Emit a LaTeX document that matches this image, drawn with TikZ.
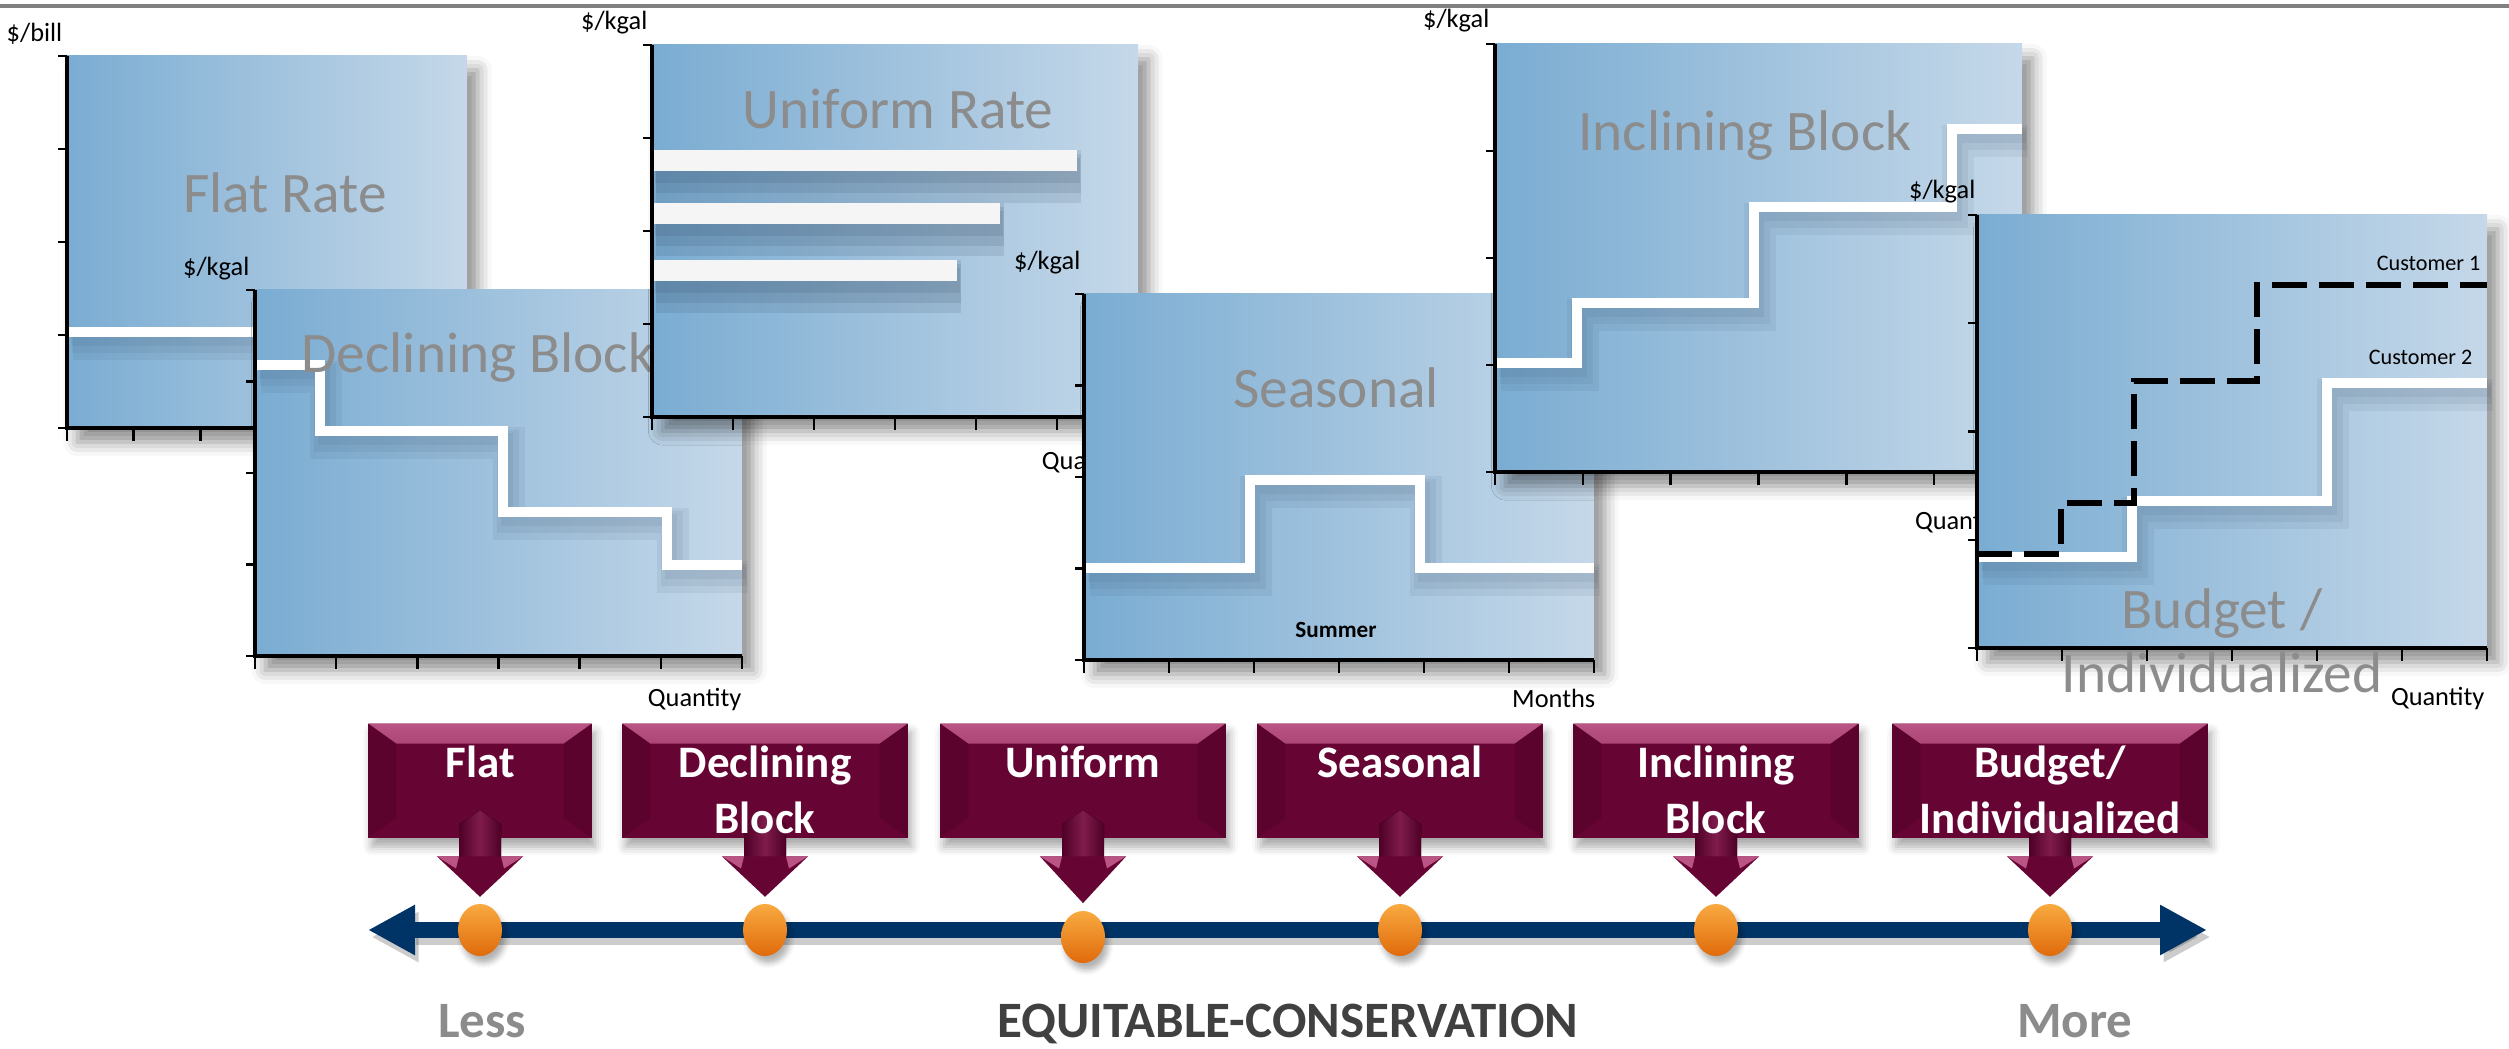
\documentclass[tikz,border=0pt]{standalone}
\usepackage{fontspec}
\setmainfont{Carlito}
\usetikzlibrary{positioning}
\usetikzlibrary{calc}
\usetikzlibrary{arrows.meta}
\usetikzlibrary{shapes.geometric}
\usetikzlibrary{shadows.blur}

\definecolor{panl}{RGB}{122,172,210}
\definecolor{panr}{RGB}{197,216,233}
\definecolor{titlegray}{RGB}{140,140,140}
\definecolor{boxred}{RGB}{102,4,52}
\definecolor{boxlite}{RGB}{186,84,132}
\definecolor{boxdark}{RGB}{78,0,38}
\definecolor{navy}{RGB}{0,51,102}
\definecolor{balllite}{RGB}{248,170,64}
\definecolor{balldark}{RGB}{224,106,12}
\definecolor{shadeblue}{RGB}{40,60,85}

\tikzset{
    panelbg/.style={left color=panl, right color=panr,
        blur shadow={shadow xshift=3pt, shadow yshift=-4pt,
            shadow blur radius=4pt, shadow opacity=45}},
    axisline/.style={black, line width=1.3pt},
    tickline/.style={black, line width=0.7pt},
    stepline/.style={white, line width=2.8pt},
    stepshade/.style={shadeblue, opacity=0.07, line width=#1},
    barshade/.style={shadeblue, opacity=0.12, line width=#1},
    ratebar/.style={black!4, line width=6pt},
    dashline/.style={black, line width=1.85pt, dash pattern=on 0.35cm off 0.12cm},
    graphtitle/.style={font=\fontsize{16.3}{19}\selectfont, text=titlegray,
        inner sep=0pt, anchor=base},
    unitlabel/.style={font=\fontsize{7.5}{9}\selectfont, inner sep=0pt, anchor=base east},
    smalllabel/.style={font=\fontsize{6.3}{8}\selectfont, inner sep=0pt, anchor=base east},
    seasonnote/.style={font=\bfseries\fontsize{6.6}{8}\selectfont, inner sep=0pt, anchor=base},
    rbox/.style={rectangle, fill=boxred, minimum height=1.14cm, inner sep=0pt, anchor=north,
        blur shadow={shadow xshift=1pt, shadow yshift=-2.5pt,
            shadow blur radius=2.5pt, shadow opacity=35},
        path picture={
            \fill [top color=boxlite, bottom color=boxred]
                (path picture bounding box.north west) -- (path picture bounding box.north east)
                -- ([xshift=-0.28cm, yshift=-0.2cm] path picture bounding box.north east)
                -- ([xshift=0.28cm, yshift=-0.2cm] path picture bounding box.north west) -- cycle;
            \fill [boxdark, opacity=0.45]
                (path picture bounding box.north west)
                -- ([xshift=0.28cm, yshift=-0.2cm] path picture bounding box.north west)
                -- ([xshift=0.28cm, yshift=0.2cm] path picture bounding box.south west)
                -- (path picture bounding box.south west) -- cycle;
            \fill [boxdark, opacity=0.45]
                (path picture bounding box.north east)
                -- ([xshift=-0.28cm, yshift=-0.2cm] path picture bounding box.north east)
                -- ([xshift=-0.28cm, yshift=0.2cm] path picture bounding box.south east)
                -- (path picture bounding box.south east) -- cycle;
        }},
    boxtext/.style={text=white, font=\bfseries\fontsize{12.8}{15.9}\selectfont,
        align=center, inner sep=0pt},
    orangeball/.style={ellipse, minimum width=0.44cm, minimum height=0.52cm, inner sep=0pt,
        top color=balllite, bottom color=balldark,
        blur shadow={shadow xshift=1pt, shadow yshift=-2pt,
            shadow blur radius=1.5pt, shadow opacity=30}},
    timeline/.style={navy, line width=0.16cm,
        {Triangle[width=0.47cm, length=0.47cm]}-{Triangle[width=0.47cm, length=0.47cm]}},
    scaletext/.style={font=\bfseries\fontsize{14.5}{17}\selectfont, inner sep=0pt, anchor=base},
    topline/.style={black!50, line width=1.1pt},
}

\newcommand{\ratepanel}[5]{%
    \path [panelbg] (#1, #2) rectangle (#3, #4);
    #5
    \foreach \k in {0, ..., 4}
        \draw [tickline] (#1, {#2 + \k*(#4 - #2)/4}) -- ++(-9, 0);
    \foreach \k in {0, ..., 6}
        \draw [tickline] ({#1 + \k*(#3 - #1)/6}, #4) -- ++(0, 13);
    \draw [axisline] (#1, #2) -- (#1, #4) -- (#3, #4);
}

\newcommand{\stepdraw}[1]{%
    \draw [stepshade=9pt, shift={(6, 12)}] #1;
    \draw [stepshade=6pt, shift={(5, 10)}] #1;
    \draw [stepshade=3.5pt, shift={(4, 8)}] #1;
    \draw [stepline] #1;
}

\newcommand{\bardraw}[1]{%
    \draw [barshade=15pt, shift={(4, 16)}] #1;
    \draw [barshade=11pt, shift={(4, 13)}] #1;
    \draw [barshade=7pt, shift={(3, 10)}] #1;
    \draw [ratebar] #1;
}

\newcommand{\pointer}[2]{%
    \fill [left color=boxdark, right color=boxdark, middle color=boxred!70!boxlite]
        ($(#1.south) + (-21, 20)$) -- ($(#1.south) + (-21, -14)$) -- ($(#1.south) + (0, -28)$)
        -- ($(#1.south) + (21, -14)$) -- ($(#1.south) + (21, 20)$) -- cycle;
    \fill [boxred] ($(#1.south) + (-43, 18)$) -- ($(#1.south) + (43, 18)$)
        -- ($(#1.south)!0.9!(#2.north)$) -- cycle;
    \fill [boxlite] ($(#1.south) + (-43, 18)$) -- ($(#1.south) + (-21, 18)$)
        -- ($(#1.south) + (-24, 30)$) -- cycle;
    \fill [boxlite] ($(#1.south) + (43, 18)$) -- ($(#1.south) + (21, 18)$)
        -- ($(#1.south) + (24, 30)$) -- cycle;
}

\begin{document}
\begin{tikzpicture}[x=0.01cm, y=-0.01cm]
    \useasboundingbox (0, 0) rectangle (2509, 1049);
    \draw [topline] (0, 6) -- (2509, 6);

    \ratepanel{67}{56}{467}{428}{%
        \stepdraw{(67, 332) -- (467, 332)}}
    \path (63, 42) node [unitlabel] (flatunit) {\$/bill};
    \path (285, 213) node [graphtitle] (flattitle) {Flat Rate};

    \ratepanel{255}{290}{742}{656}{%
        \stepdraw{(255, 365) -| (320, 431) -| (503, 512) -| (667, 565) -- (742, 565)}}
    \path (250, 276) node [unitlabel] (decunit) {\$/kgal};
    \path (742, 706) node [unitlabel] (decqty) {Quantity};
    \path (478, 373) node [graphtitle] (dectitle) {Declining Block};

    \ratepanel{652}{45}{1138}{417}{%
        \bardraw{(652, 160.5) -- (1077, 160.5)}
        \bardraw{(652, 213.5) -- (1000, 213.5)}
        \bardraw{(652, 270.5) -- (957, 270.5)}}
    \path (648, 30) node [unitlabel] (uniunit) {\$/kgal};
    \path (1136, 469) node [unitlabel] (uniqty) {Quantity};
    \path (898, 129) node [graphtitle] (unititle) {Uniform Rate};

    \ratepanel{1084}{294}{1594}{660}{%
        \stepdraw{(1084, 568) -| (1250, 480) -| (1420, 568) -- (1594, 568)}}
    \path (1081, 270) node [unitlabel] (seaunit) {\$/kgal};
    \path (1596, 707) node [unitlabel] (seaqty) {Months};
    \path (1336, 637) node [seasonnote] (summer) {Summer};
    \path (1336, 408) node [graphtitle] (seatitle) {Seasonal};

    \ratepanel{1495}{44}{2022}{472}{%
        \stepdraw{(1495, 363) -| (1577, 303) -| (1754, 207) -| (1952, 129) -- (2022, 129)}}
    \path (1490, 28) node [unitlabel] (incunit) {\$/kgal};
    \path (2009, 530) node [unitlabel] (incqty) {Quantity};
    \path (1745, 151) node [graphtitle] (inctitle) {Inclining Block};

    \ratepanel{1977}{215}{2487}{648}{%
        \stepdraw{(1977, 557) -| (2132, 501) -| (2327, 383) -- (2487, 383)}
        \draw [dashline] (1977, 554) -| (2061, 503) -| (2134, 381) -| (2257, 285) -- (2487, 285);}
    \path (1976, 199) node [unitlabel] (budunit) {\$/kgal};
    \path (2485, 705) node [unitlabel] (budqty) {Quantity};
    \path (2481, 271) node [smalllabel] (cust1) {Customer 1};
    \path (2473, 365) node [smalllabel] (cust2) {Customer 2};
    \path (2222, 628) node [graphtitle] (budtitle) {Budget /};
    \path (2222, 692) node [graphtitle] (indtitle) {Individualized};

    \coordinate (lo) at (368, 930);
    \coordinate (hi) at (2207, 930);
    \draw [timeline, black, opacity=0.2, transform canvas={xshift=1pt, yshift=-2pt}] (lo) -- (hi);
    \draw [timeline] (lo) -- (hi);

    \path (480, 930) node [orangeball] (flatdot) {};
    \path (765, 930) node [orangeball] (decdot) {};
    \path (1083, 937) node [orangeball] (unidot) {};
    \path (1400, 930) node [orangeball] (seadot) {};
    \path (1716, 930) node [orangeball] (incdot) {};
    \path (2050, 930) node [orangeball] (buddot) {};

    \path (480, 723) node [rbox, minimum width=2.23cm] (flat) {};
    \path (765, 723) node [rbox, minimum width=2.85cm] (declining) {};
    \path (1083, 723) node [rbox, minimum width=2.85cm] (uniform) {};
    \path (1400, 723) node [rbox, minimum width=2.85cm] (seasonal) {};
    \path (1716, 723) node [rbox, minimum width=2.85cm] (inclining) {};
    \path (2050, 723) node [rbox, minimum width=3.15cm] (budget) {};

    \pointer{flat}{flatdot}
    \pointer{declining}{decdot}
    \pointer{uniform}{unidot}
    \pointer{seasonal}{seadot}
    \pointer{inclining}{incdot}
    \pointer{budget}{buddot}

    \path node [boxtext, below=0.22cm of flat.north] (flattext) {Flat};
    \path node [boxtext, below=0.22cm of declining.north] (dectext) {Declining\\Block};
    \path node [boxtext, below=0.22cm of uniform.north] (unitext) {Uniform};
    \path node [boxtext, below=0.22cm of seasonal.north] (seatext) {Seasonal};
    \path node [boxtext, below=0.22cm of inclining.north] (inctext) {Inclining\\Block};
    \path node [boxtext, below=0.22cm of budget.north] (budtext) {Budget/\\Individualized};

    \path (482, 1037) node [scaletext, text=titlegray] (less) {Less};
    \path (1288, 1037) node [scaletext, text=black!75] (equity) {EQUITABLE-CONSERVATION};
    \path (2075, 1037) node [scaletext, text=titlegray] (more) {More};
\end{tikzpicture}
\end{document}
